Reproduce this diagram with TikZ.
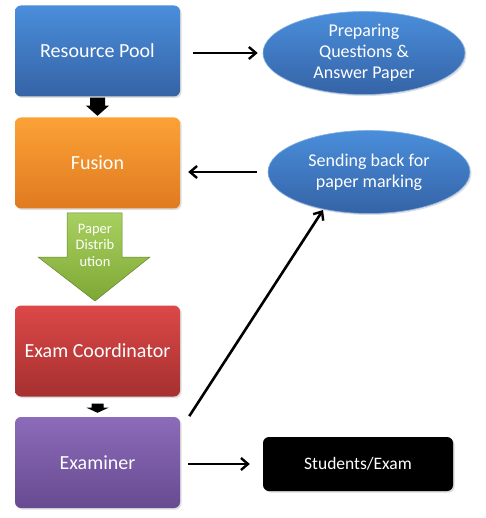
\documentclass[tikz,border=0pt]{standalone}
\usepackage{fontspec}
\setmainfont{Carlito}
\usetikzlibrary{arrows.meta,shapes.geometric,shadows,calc}
\definecolor{bluetop}{HTML}{4A8EDB}
\definecolor{bluebot}{HTML}{3563A6}
\definecolor{orgtop}{HTML}{FBA236}
\definecolor{orgbot}{HTML}{E07A20}
\definecolor{redtop}{HTML}{DC4848}
\definecolor{redbot}{HTML}{A63030}
\definecolor{purtop}{HTML}{8C6BBA}
\definecolor{purbot}{HTML}{674A90}
\definecolor{grntop}{HTML}{A8D060}
\definecolor{grnbot}{HTML}{7EA836}
\tikzset{
  boxnode/.style={rounded corners=6pt, minimum width=165pt, minimum height=91pt,
    text=white, font=\fontsize{20}{24}\selectfont, inner sep=0pt,
    drop shadow={opacity=0.25, shadow xshift=1.5pt, shadow yshift=-1.5pt}},
  ellnode/.style={ellipse, minimum width=202pt, minimum height=83pt, inner sep=0pt,
    top color=bluetop, bottom color=bluebot, draw=bluetop!70!white, line width=0.6pt,
    text=white, align=center, font=\fontsize{18}{21}\selectfont,
    drop shadow={opacity=0.25, shadow xshift=1.5pt, shadow yshift=-1.5pt}},
  lineconn/.style={line width=2.6pt, -{Straight Barb[length=7pt,width=12pt,line width=2.4pt]}},
  blockarrow/.style={fill=black}
}
\begin{document}
\begin{tikzpicture}[x=1pt,y=-1pt]
\useasboundingbox[fill=white] (0,0) rectangle (485,518);
% boxes
\node[boxnode, top color=bluetop, bottom color=bluebot] (rp) at (97.5,51) {Resource Pool};
\node[boxnode, top color=orgtop, bottom color=orgbot] (fu) at (97.5,163) {Fusion};
\node[boxnode, top color=redtop, bottom color=redbot] (ec) at (97.5,351) {Exam Coordinator};
\node[boxnode, top color=purtop, bottom color=purbot] (ex) at (97.5,462.5) {Examiner};
\node[rounded corners=6pt, minimum width=190pt, minimum height=54pt, fill=black,
  text=white, font=\fontsize{17.5}{20}\selectfont, inner sep=0pt,
  drop shadow={opacity=0.3, shadow xshift=1.5pt, shadow yshift=-1.5pt}] (se) at (358,464) {Students/Exam};
% ellipses
\node[ellnode] (e1) at (364,53) {Preparing\\Questions \&\\Answer Paper};
\node[ellnode] (e2) at (369,172) {Sending back for\\paper marking};
% small block arrows
\fill[blockarrow] ($(rp.south)+(-7.5,1)$) -- ++(15,0) -- ++(0,8) -- ++(4,0) -- ($(fu.north)+(0,-1.5)$)
  -- ($(rp.south)+(-11.5,9)$) -- ++(4,0) -- cycle;
\fill[blockarrow] ($(ec.south)+(-6,7)$) -- ++(12,0) -- ++(0,4) -- ++(5,0) -- ($(ex.north)+(0,-4)$)
  -- ($(ec.south)+(-11,11)$) -- ++(5,0) -- cycle;
% green block arrow
\path[top color=grntop, bottom color=grnbot, draw=grnbot!80!black, line width=0.5pt]
  (67,213) -- (122,213) -- (122,257) -- (150,257) -- (95,301) -- (38,257) -- (67,257) -- cycle;
\node[text=white, align=center, font=\fontsize{14.5}{16.5}\selectfont, inner sep=0pt] (pd) at (95,245) {Paper\\Distrib\\ution};
% connectors
\coordinate (diagend) at (323,210);
\draw[lineconn, shorten <=13pt, shorten >=5pt] (rp.east |- e1.west) -- (e1.west);
\draw[lineconn, shorten <=11pt, shorten >=8pt] (e2.west) -- (fu.east |- e2.west);
\draw[lineconn, shorten <=2pt] ($(ex.north east)+(8,1)$) -- (diagend);
\draw[lineconn, shorten <=8pt, shorten >=13pt] (ex.east |- se.west) -- (se.west);
\end{tikzpicture}
\end{document}
